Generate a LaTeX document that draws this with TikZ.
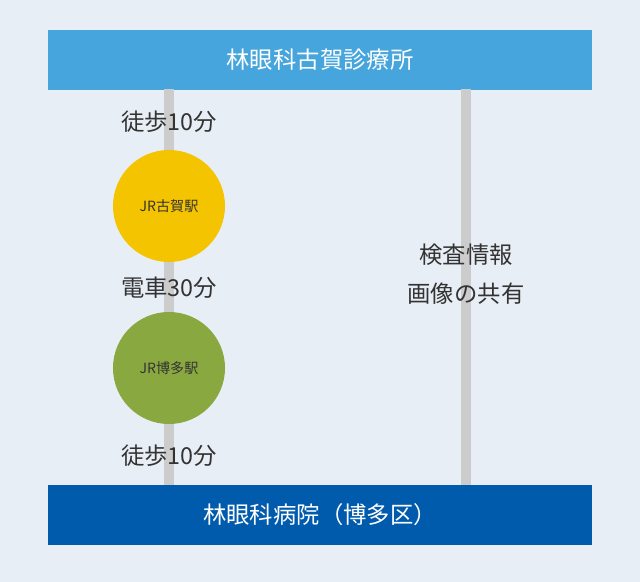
\documentclass[tikz,border=0pt]{standalone}
\usepackage{fontspec}
\setmainfont{Noto Sans CJK JP}
\definecolor{bgc}{HTML}{E8EEF5}
\definecolor{topc}{HTML}{45A5DC}
\definecolor{botc}{HTML}{005BAC}
\definecolor{linec}{HTML}{CCCCCC}
\definecolor{yelc}{HTML}{F5C400}
\definecolor{grnc}{HTML}{8AA840}
\definecolor{txtc}{HTML}{333333}
\tikzset{
  bar/.style={minimum width=13.6cm, minimum height=1.475cm, inner sep=0pt, text=white, font=\fontsize{16.6}{19}\selectfont},
  station/.style={circle, minimum size=2.8cm, inner sep=0pt, text=txtc, font=\fontsize{10}{12}\selectfont},
  lbl/.style={text=txtc, inner sep=2pt, font=\fontsize{16.6}{19}\selectfont},
}
\begin{document}
\begin{tikzpicture}[x=0.025cm,y=-0.025cm]
\fill[bgc] (0,0) rectangle (640,582);
\useasboundingbox (0,0) rectangle (640,582);
% bars
\node[bar, fill=topc] (top) at (320,60) {林眼科古賀診療所};
\node[bar, fill=botc] (bot) at (320,515) {林眼科病院（博多区）};
% lines
\coordinate (la) at (169,89);
\coordinate (lb) at (169,485);
\coordinate (ra) at (466,89);
\coordinate (rb) at (466,485);
\draw[linec, line width=0.25cm] (la) -- (lb);
\draw[linec, line width=0.25cm] (ra) -- (rb);
% stations
\node[station, fill=yelc] (koga) at (169,206) {JR古賀駅};
\node[station, fill=grnc] (hakata) at (169,368) {JR博多駅};
% labels
\node[lbl] (walk1) at (169,122) {徒歩10分};
\node[lbl] (train) at (169,288) {電車30分};
\node[lbl] (walk2) at (169,456) {徒歩10分};
\node[lbl, align=center, inner sep=4pt, font=\fontsize{16.6}{28}\selectfont] (share) at (466,274) {検査情報\\画像の共有};
\end{tikzpicture}
\end{document}
